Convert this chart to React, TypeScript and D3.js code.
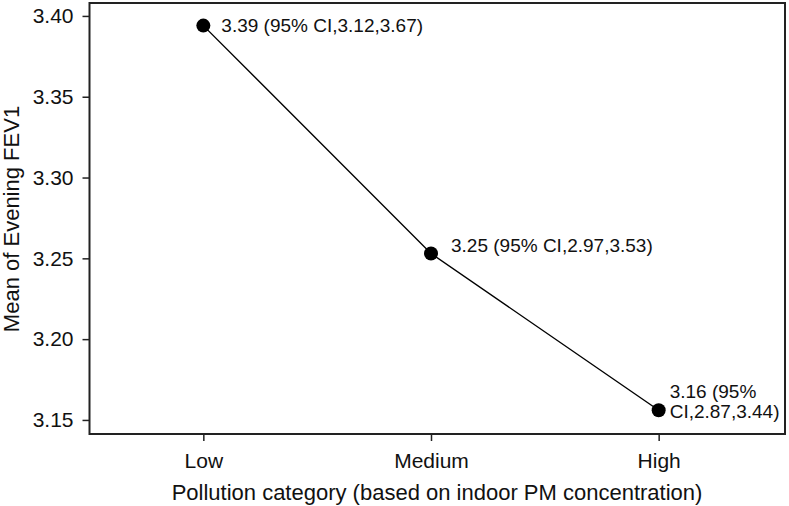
import React, { useEffect, useRef } from 'react'
import { axisBottom, axisLeft, scaleLinear, scalePoint, select, line } from 'd3'

// pollution categories and mean evening FEV1
const categories = ['Low', 'Medium', 'High']
const means = [3.394, 3.253, 3.156]
const ciLabels = [
	['3.39 (95% CI,3.12,3.67)'],
	['3.25 (95% CI,2.97,3.53)'],
	['3.16 (95%', 'CI,2.87,3.44)'],
]
const yTicks = [3.15, 3.2, 3.25, 3.3, 3.35, 3.4]

const width = 789
const height = 506
const frame = { left: 89.5, right: 785, top: 3, bottom: 434 }
const font = 'Liberation Sans, Arial, Helvetica, sans-serif'
const tickFont = 21
const titleFont = 22
const labelFont = 19
const lineGap = 19.5

// label nudges relative to each point
const labelDx = [18, 20, 11]
const labelDy = [6, -1, -12]

const App = () => {
	const xAxis = scalePoint<string>().domain(categories).range([frame.left, frame.right - 12.5]).padding(0.5)
	const yAxis = scaleLinear().domain([3.1413, 3.408]).range([frame.bottom, frame.top])

	const LeftAxis = () => {
		const ref = useRef<SVGGElement>(null)
		useEffect(() => {
			if (ref.current) {
				const g = select(ref.current)
				g.call(axisLeft(yAxis).tickValues(yTicks).tickFormat((d: any) => d.toFixed(2)).tickSize(7).tickPadding(9))
				g.select('.domain').remove()
				g.selectAll('line').attr('stroke', '#222').attr('stroke-width', 1.5)
				g.selectAll('text').attr('font-size', tickFont).attr('font-family', font).attr('fill', '#111')
			}
		}, [])
		return <g ref={ref} transform={`translate(${frame.left}, 0)`} />
	}

	const BottomAxis = () => {
		const ref = useRef<SVGGElement>(null)
		useEffect(() => {
			if (ref.current) {
				const g = select(ref.current)
				g.call(axisBottom(xAxis).tickSize(7).tickPadding(12))
				g.select('.domain').remove()
				g.selectAll('line').attr('stroke', '#222').attr('stroke-width', 1.5)
				g.selectAll('text').attr('font-size', tickFont).attr('font-family', font).attr('fill', '#111')
			}
		}, [])
		return <g ref={ref} transform={`translate(0, ${frame.bottom})`} />
	}

	const path = line<number>()
		.x((_, i) => xAxis(categories[i]) as number)
		.y((d) => yAxis(d))(means)

	return (
		<svg width={width} height={height} style={{ position: 'absolute', left: 0, top: 0, background: '#fff' }}>
			<rect
				x={frame.left}
				y={frame.top}
				width={frame.right - frame.left}
				height={frame.bottom - frame.top}
				fill="none"
				stroke="#222"
				strokeWidth={2}
			/>
			<LeftAxis />
			<BottomAxis />

			<path d={path || ''} fill="none" stroke="#000" strokeWidth={1.4} />
			{means.map((m, i) => (
				<circle key={`pt-${i}`} cx={xAxis(categories[i])} cy={yAxis(m)} r={7} fill="#000" />
			))}

			{ciLabels.map((lines, i) =>
				lines.map((t, j) => (
					<text
						key={`lab-${i}-${j}`}
						x={(xAxis(categories[i]) as number) + labelDx[i]}
						y={yAxis(means[i]) + labelDy[i] + j * lineGap}
						fontSize={labelFont}
						fontFamily={font}
						fill="#111"
					>
						{t}
					</text>
				))
			)}

			<text
				x={437}
				y={500}
				textAnchor="middle"
				fontSize={titleFont}
				fontFamily={font}
				fill="#111"
			>
				Pollution category (based on indoor PM concentration)
			</text>
			<text
				transform={`translate(19, 219) rotate(-90)`}
				textAnchor="middle"
				fontSize={titleFont}
				fontFamily={font}
				fill="#111"
			>
				Mean of Evening FEV1
			</text>
		</svg>
	)
}

export default App
